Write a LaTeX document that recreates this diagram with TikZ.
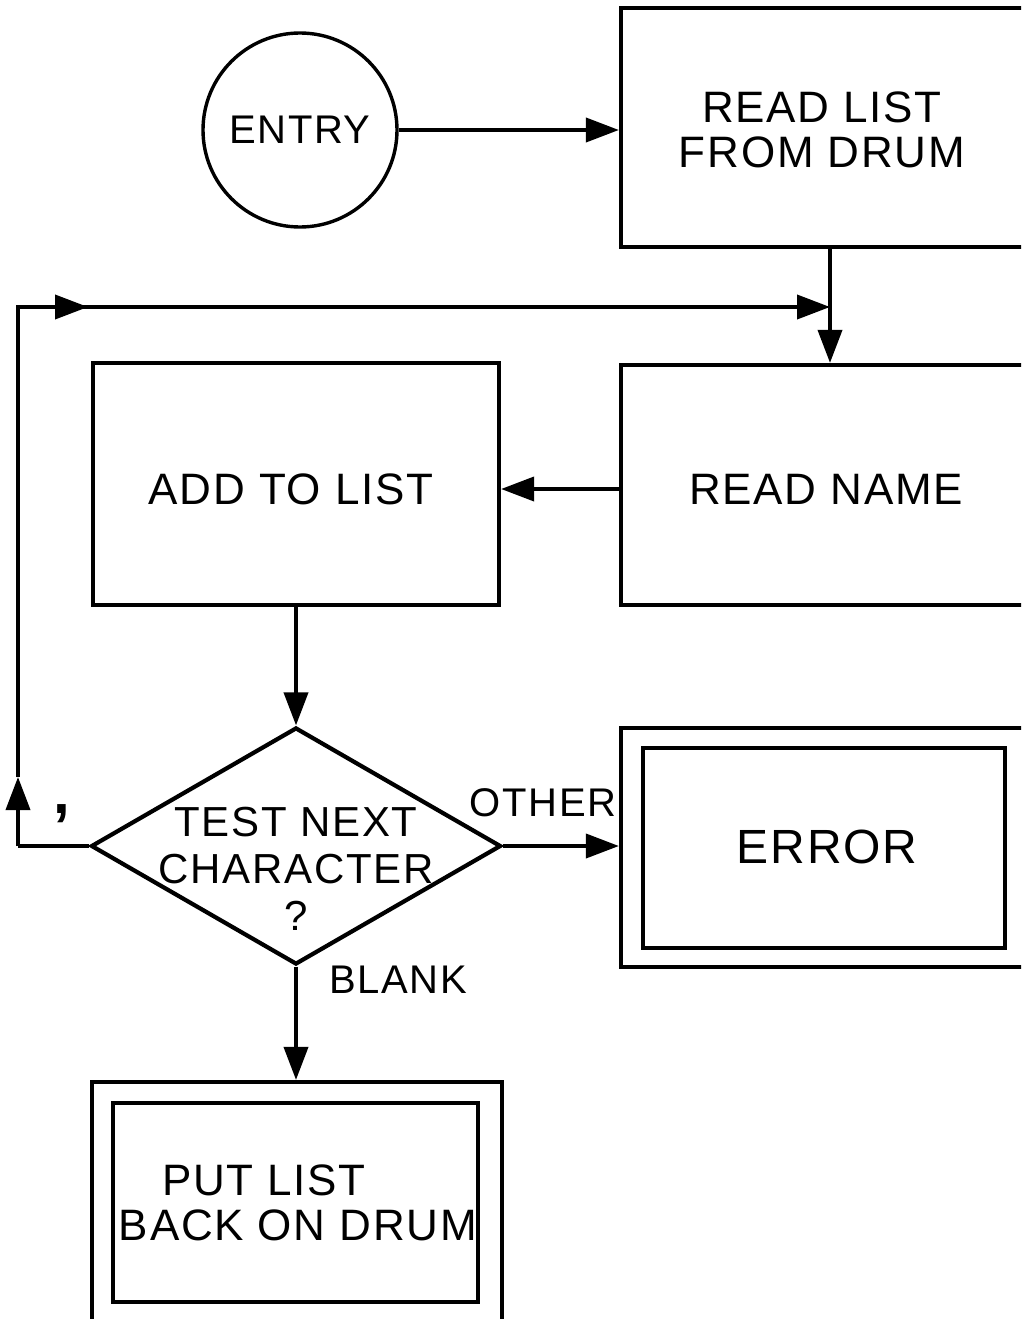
\documentclass[tikz,border=0pt]{standalone}
\usepackage{fontspec}
\setmainfont{Liberation Sans}[LetterSpace=4]
\usetikzlibrary{shapes.geometric,arrows.meta}

\begin{document}
\begin{tikzpicture}[x=1pt,y=-1pt,
    every node/.style={font=\fontsize{44}{48}\selectfont},
    box/.style={draw, line width=4.2pt, rectangle, inner sep=0pt},
    conn/.style={line width=3.8pt},
    arr/.style={conn, -{Triangle[length=33pt,width=24pt]}},
    lbl/.style={inner sep=0pt, align=center}]
  \useasboundingbox (0,0) rectangle (1021,1319);
  \clip (0,0) rectangle (1021,1319);

  % start node and first step
  \node[draw, circle, line width=3.4pt, minimum size=194pt, inner sep=0pt] (entry) at (300,130) {};
  \node[lbl, font=\fontsize{40}{44}\selectfont] (entrytxt) at (300,130) {ENTRY};
  \node[box, minimum width=418pt, minimum height=239pt] (readlist) at (830,127.5) {};
  \node[lbl, font=\fontsize{44}{45}\selectfont] (readlisttxt) at (822,130) {READ LIST\\FROM DRUM};

  % main loop
  \node[box, minimum width=418pt, minimum height=240pt] (readname) at (830,485) {};
  \node[lbl] (readnametxt) at (826,489) {READ NAME};
  \node[box, minimum width=406pt, minimum height=242pt] (addlist) at (296,484) {};
  \node[lbl] (addlisttxt) at (291,489) {ADD TO LIST};

  \node[draw, diamond, line width=4.2pt, minimum width=410pt, minimum height=237pt, inner sep=0pt] (test) at (296,846) {};
  \node[lbl, font=\fontsize{42}{47}\selectfont] (testtxt) at (296,869) {TEST NEXT\\CHARACTER\\?};

  % exits
  \node[box, minimum width=420pt, minimum height=239pt] (errout) at (831,847.5) {};
  \node[box, minimum width=362pt, minimum height=200pt] (errin) at (824,848) {};
  \node[lbl, font=\fontsize{48}{52}\selectfont] (errtxt) at (827,847) {ERROR};

  \node[box, minimum width=410pt, minimum height=260pt] (putout) at (297,1212) {};
  \node[box, minimum width=365pt, minimum height=199pt] (putin) at (295.5,1202.5) {};
  \node[lbl, anchor=west] (puttxt1) at (162,1180) {PUT LIST};
  \node[lbl] (puttxt2) at (298,1225) {BACK ON DRUM};

  % branch labels
  \node[lbl, font=\fontsize{40}{44}\selectfont] (other) at (543,803) {OTHER};
  \node[lbl, font=\fontsize{40}{44}\selectfont] (blank) at (398,980) {BLANK};
  \node[lbl, anchor=base, font=\fontsize{60}{60}\selectfont\bfseries] (comma) at (62,813) {,};

  % connectors
  \draw[arr] (entry.east) -- (entry.east -| readlist.west);
  \draw[arr] (readlist.south) -- (readname.north);
  \draw[arr] ([yshift=-4pt]readname.west) -- ([yshift=-4pt]readname.west -| addlist.east);
  \draw[arr] (addlist.south) -- (test.north);
  \draw[arr] (test.east) -- (test.east -| errout.west);
  \draw[arr] (test.south) -- (test.south |- putout.north);

  % return path for the comma case
  \coordinate (lc) at (18,846);
  \coordinate (up) at (18,777);
  \coordinate (tc) at (18,307);
  \coordinate (a1) at (88,307);
  \coordinate (jn) at (830,307);
  \draw[conn] (test.west) -- (lc);
  \draw[arr] (lc) -- (up);
  \draw[conn, line join=miter] (up) -- (tc) -- (a1);
  \draw[arr] (tc) -- (a1);
  \draw[arr] (a1) -- (jn);
\end{tikzpicture}
\end{document}
